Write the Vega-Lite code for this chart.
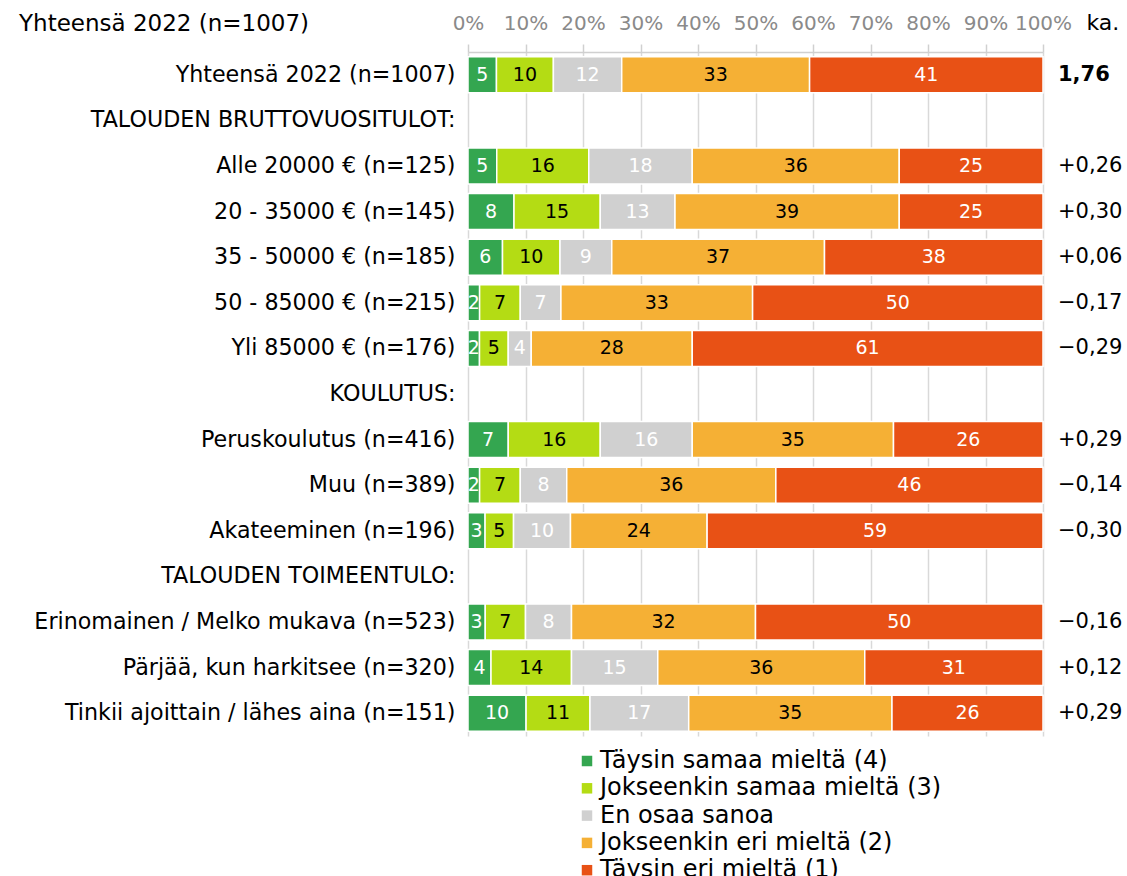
{
  "$schema": "https://vega.github.io/schema/vega-lite/v6.json",
  "autosize": {"type": "none"},
  "width": 575,
  "height": 684,
  "padding": {"left": 468, "top": 52, "right": 84, "bottom": 140},
  "background": "white",
  "config": {
    "view": {"stroke": null},
    "font": "DejaVu Sans",
    "locale": {"number": {"decimal": ",", "thousands": " ", "grouping": [3], "currency": ["", " €"], "minus": "−"}}
  },
  "title": {
    "text": "Yhteensä 2022 (n=1007)",
    "anchor": "start",
    "frame": "group",
    "fontSize": 23,
    "fontWeight": "normal",
    "color": "#000000",
    "font": "DejaVu Sans",
    "dx": -449,
    "dy": 29
  },
  "datasets": {
    "bars": [
      {"g": "Yhteensä 2022 (n=1007)", "c": "Täysin samaa mieltä (4)", "k": 1, "v": 5},
      {"g": "Yhteensä 2022 (n=1007)", "c": "Jokseenkin samaa mieltä (3)", "k": 2, "v": 10},
      {"g": "Yhteensä 2022 (n=1007)", "c": "En osaa sanoa", "k": 3, "v": 12},
      {"g": "Yhteensä 2022 (n=1007)", "c": "Jokseenkin eri mieltä (2)", "k": 4, "v": 33},
      {"g": "Yhteensä 2022 (n=1007)", "c": "Täysin eri mieltä (1)", "k": 5, "v": 41},
      {"g": "Alle 20000 € (n=125)", "c": "Täysin samaa mieltä (4)", "k": 1, "v": 5},
      {"g": "Alle 20000 € (n=125)", "c": "Jokseenkin samaa mieltä (3)", "k": 2, "v": 16},
      {"g": "Alle 20000 € (n=125)", "c": "En osaa sanoa", "k": 3, "v": 18},
      {"g": "Alle 20000 € (n=125)", "c": "Jokseenkin eri mieltä (2)", "k": 4, "v": 36},
      {"g": "Alle 20000 € (n=125)", "c": "Täysin eri mieltä (1)", "k": 5, "v": 25},
      {"g": "20 - 35000 € (n=145)", "c": "Täysin samaa mieltä (4)", "k": 1, "v": 8},
      {"g": "20 - 35000 € (n=145)", "c": "Jokseenkin samaa mieltä (3)", "k": 2, "v": 15},
      {"g": "20 - 35000 € (n=145)", "c": "En osaa sanoa", "k": 3, "v": 13},
      {"g": "20 - 35000 € (n=145)", "c": "Jokseenkin eri mieltä (2)", "k": 4, "v": 39},
      {"g": "20 - 35000 € (n=145)", "c": "Täysin eri mieltä (1)", "k": 5, "v": 25},
      {"g": "35 - 50000 € (n=185)", "c": "Täysin samaa mieltä (4)", "k": 1, "v": 6},
      {"g": "35 - 50000 € (n=185)", "c": "Jokseenkin samaa mieltä (3)", "k": 2, "v": 10},
      {"g": "35 - 50000 € (n=185)", "c": "En osaa sanoa", "k": 3, "v": 9},
      {"g": "35 - 50000 € (n=185)", "c": "Jokseenkin eri mieltä (2)", "k": 4, "v": 37},
      {"g": "35 - 50000 € (n=185)", "c": "Täysin eri mieltä (1)", "k": 5, "v": 38},
      {"g": "50 - 85000 € (n=215)", "c": "Täysin samaa mieltä (4)", "k": 1, "v": 2},
      {"g": "50 - 85000 € (n=215)", "c": "Jokseenkin samaa mieltä (3)", "k": 2, "v": 7},
      {"g": "50 - 85000 € (n=215)", "c": "En osaa sanoa", "k": 3, "v": 7},
      {"g": "50 - 85000 € (n=215)", "c": "Jokseenkin eri mieltä (2)", "k": 4, "v": 33},
      {"g": "50 - 85000 € (n=215)", "c": "Täysin eri mieltä (1)", "k": 5, "v": 50},
      {"g": "Yli 85000 € (n=176)", "c": "Täysin samaa mieltä (4)", "k": 1, "v": 2},
      {"g": "Yli 85000 € (n=176)", "c": "Jokseenkin samaa mieltä (3)", "k": 2, "v": 5},
      {"g": "Yli 85000 € (n=176)", "c": "En osaa sanoa", "k": 3, "v": 4},
      {"g": "Yli 85000 € (n=176)", "c": "Jokseenkin eri mieltä (2)", "k": 4, "v": 28},
      {"g": "Yli 85000 € (n=176)", "c": "Täysin eri mieltä (1)", "k": 5, "v": 61},
      {"g": "Peruskoulutus (n=416)", "c": "Täysin samaa mieltä (4)", "k": 1, "v": 7},
      {"g": "Peruskoulutus (n=416)", "c": "Jokseenkin samaa mieltä (3)", "k": 2, "v": 16},
      {"g": "Peruskoulutus (n=416)", "c": "En osaa sanoa", "k": 3, "v": 16},
      {"g": "Peruskoulutus (n=416)", "c": "Jokseenkin eri mieltä (2)", "k": 4, "v": 35},
      {"g": "Peruskoulutus (n=416)", "c": "Täysin eri mieltä (1)", "k": 5, "v": 26},
      {"g": "Muu (n=389)", "c": "Täysin samaa mieltä (4)", "k": 1, "v": 2},
      {"g": "Muu (n=389)", "c": "Jokseenkin samaa mieltä (3)", "k": 2, "v": 7},
      {"g": "Muu (n=389)", "c": "En osaa sanoa", "k": 3, "v": 8},
      {"g": "Muu (n=389)", "c": "Jokseenkin eri mieltä (2)", "k": 4, "v": 36},
      {"g": "Muu (n=389)", "c": "Täysin eri mieltä (1)", "k": 5, "v": 46},
      {"g": "Akateeminen (n=196)", "c": "Täysin samaa mieltä (4)", "k": 1, "v": 3},
      {"g": "Akateeminen (n=196)", "c": "Jokseenkin samaa mieltä (3)", "k": 2, "v": 5},
      {"g": "Akateeminen (n=196)", "c": "En osaa sanoa", "k": 3, "v": 10},
      {"g": "Akateeminen (n=196)", "c": "Jokseenkin eri mieltä (2)", "k": 4, "v": 24},
      {"g": "Akateeminen (n=196)", "c": "Täysin eri mieltä (1)", "k": 5, "v": 59},
      {"g": "Erinomainen / Melko mukava (n=523)", "c": "Täysin samaa mieltä (4)", "k": 1, "v": 3},
      {"g": "Erinomainen / Melko mukava (n=523)", "c": "Jokseenkin samaa mieltä (3)", "k": 2, "v": 7},
      {"g": "Erinomainen / Melko mukava (n=523)", "c": "En osaa sanoa", "k": 3, "v": 8},
      {"g": "Erinomainen / Melko mukava (n=523)", "c": "Jokseenkin eri mieltä (2)", "k": 4, "v": 32},
      {"g": "Erinomainen / Melko mukava (n=523)", "c": "Täysin eri mieltä (1)", "k": 5, "v": 50},
      {"g": "Pärjää, kun harkitsee (n=320)", "c": "Täysin samaa mieltä (4)", "k": 1, "v": 4},
      {"g": "Pärjää, kun harkitsee (n=320)", "c": "Jokseenkin samaa mieltä (3)", "k": 2, "v": 14},
      {"g": "Pärjää, kun harkitsee (n=320)", "c": "En osaa sanoa", "k": 3, "v": 15},
      {"g": "Pärjää, kun harkitsee (n=320)", "c": "Jokseenkin eri mieltä (2)", "k": 4, "v": 36},
      {"g": "Pärjää, kun harkitsee (n=320)", "c": "Täysin eri mieltä (1)", "k": 5, "v": 31},
      {"g": "Tinkii ajoittain / lähes aina (n=151)", "c": "Täysin samaa mieltä (4)", "k": 1, "v": 10},
      {"g": "Tinkii ajoittain / lähes aina (n=151)", "c": "Jokseenkin samaa mieltä (3)", "k": 2, "v": 11},
      {"g": "Tinkii ajoittain / lähes aina (n=151)", "c": "En osaa sanoa", "k": 3, "v": 17},
      {"g": "Tinkii ajoittain / lähes aina (n=151)", "c": "Jokseenkin eri mieltä (2)", "k": 4, "v": 35},
      {"g": "Tinkii ajoittain / lähes aina (n=151)", "c": "Täysin eri mieltä (1)", "k": 5, "v": 26}
    ],
    "ka": [
      {"g": "Yhteensä 2022 (n=1007)", "ka": 1.76},
      {"g": "Alle 20000 € (n=125)", "ka": 0.26},
      {"g": "20 - 35000 € (n=145)", "ka": 0.30},
      {"g": "35 - 50000 € (n=185)", "ka": 0.06},
      {"g": "50 - 85000 € (n=215)", "ka": -0.17},
      {"g": "Yli 85000 € (n=176)", "ka": -0.29},
      {"g": "Peruskoulutus (n=416)", "ka": 0.29},
      {"g": "Muu (n=389)", "ka": -0.14},
      {"g": "Akateeminen (n=196)", "ka": -0.30},
      {"g": "Erinomainen / Melko mukava (n=523)", "ka": -0.16},
      {"g": "Pärjää, kun harkitsee (n=320)", "ka": 0.12},
      {"g": "Tinkii ajoittain / lähes aina (n=151)", "ka": 0.29}
    ]
  },
  "encoding": {
    "y": {
      "field": "g",
      "type": "nominal",
      "scale": {
        "domain": [
          "Yhteensä 2022 (n=1007)",
          "TALOUDEN BRUTTOVUOSITULOT:",
          "Alle 20000 € (n=125)",
          "20 - 35000 € (n=145)",
          "35 - 50000 € (n=185)",
          "50 - 85000 € (n=215)",
          "Yli 85000 € (n=176)",
          "KOULUTUS:",
          "Peruskoulutus (n=416)",
          "Muu (n=389)",
          "Akateeminen (n=196)",
          "TALOUDEN TOIMEENTULO:",
          "Erinomainen / Melko mukava (n=523)",
          "Pärjää, kun harkitsee (n=320)",
          "Tinkii ajoittain / lähes aina (n=151)"
        ],
        "paddingInner": 0.21,
        "paddingOuter": 0.105
      },
      "axis": {
        "title": null,
        "ticks": false,
        "domain": false,
        "grid": false,
        "labelFontSize": 22.2,
        "labelFont": "DejaVu Sans",
        "labelColor": "#000000",
        "labelPadding": 13,
        "labelLimit": 600
      }
    }
  },
  "layer": [
    {
      "data": {"name": "bars"},
      "mark": {"type": "bar", "stroke": "white", "strokeWidth": 1.5},
      "encoding": {
        "x": {
          "field": "v",
          "type": "quantitative",
          "stack": "normalize",
          "scale": {"domain": [0, 1], "nice": false},
          "axis": {
            "orient": "top",
            "values": [0, 0.1, 0.2, 0.3, 0.4, 0.5, 0.6, 0.7, 0.8, 0.9, 1],
            "format": ".0%",
            "grid": true,
            "gridColor": "#d9d9d9",
            "gridWidth": 1.5,
            "domain": true,
            "domainColor": "#d0d0d0",
            "domainWidth": 1.5,
            "ticks": true,
            "tickSize": 8,
            "tickColor": "#d0d0d0",
            "tickWidth": 1.5,
            "labelFontSize": 20,
            "labelFont": "DejaVu Sans",
            "labelColor": "#8a8a8a",
            "labelPadding": 11,
            "labelFlush": false,
            "title": "ka.",
            "titleFontSize": 22,
            "titleFontWeight": "normal",
            "titleFont": "DejaVu Sans",
            "titleColor": "#000000",
            "titleAlign": "left",
            "titleBaseline": "alphabetic",
            "titleAnchor": null,
            "titleX": 618,
            "titleY": -23,
            "titleAngle": 0
          }
        },
        "color": {
          "field": "c",
          "type": "nominal",
          "scale": {
            "domain": ["Täysin samaa mieltä (4)", "Jokseenkin samaa mieltä (3)", "En osaa sanoa", "Jokseenkin eri mieltä (2)", "Täysin eri mieltä (1)"],
            "range": ["#34a650", "#b4dc14", "#d0d0d0", "#f5b035", "#e85115"]
          },
          "legend": {
            "title": null,
            "orient": "none",
            "legendX": 107,
            "legendY": 697,
            "direction": "vertical",
            "symbolType": "square",
            "symbolSize": 110,
            "symbolStrokeWidth": 0,
            "labelFontSize": 24,
            "labelFont": "DejaVu Sans",
            "labelColor": "#000000",
            "labelOffset": 1,
            "rowPadding": 3.3,
            "labelLimit": 600
          }
        },
        "order": {"field": "k", "type": "quantitative"}
      }
    },
    {
      "data": {"name": "bars"},
      "mark": {"type": "text", "fontSize": 19, "font": "DejaVu Sans", "align": "center", "baseline": "middle"},
      "encoding": {
        "x": {"field": "v", "type": "quantitative", "stack": "normalize", "bandPosition": 0.5},
        "detail": {"field": "c", "type": "nominal"},
        "order": {"field": "k", "type": "quantitative"},
        "text": {"field": "v", "type": "quantitative", "format": "d"},
        "color": {"condition": {"test": "datum.k == 2 || datum.k == 4", "value": "#000000"}, "value": "#ffffff"}
      }
    },
    {
      "data": {"name": "ka"},
      "transform": [{"filter": "datum.g == 'Yhteensä 2022 (n=1007)'"}],
      "mark": {"type": "text", "fontSize": 21, "fontWeight": "bold", "font": "DejaVu Sans", "align": "left", "baseline": "middle", "dx": 15, "color": "#000000"},
      "encoding": {
        "x": {"datum": 1, "type": "quantitative"},
        "text": {"field": "ka", "type": "quantitative", "format": ".2f"}
      }
    },
    {
      "data": {"name": "ka"},
      "transform": [{"filter": "datum.g != 'Yhteensä 2022 (n=1007)'"}],
      "mark": {"type": "text", "fontSize": 21, "font": "DejaVu Sans", "align": "left", "baseline": "middle", "dx": 15, "color": "#000000"},
      "encoding": {
        "x": {"datum": 1, "type": "quantitative"},
        "text": {"field": "ka", "type": "quantitative", "format": "+.2f"}
      }
    }
  ]
}
